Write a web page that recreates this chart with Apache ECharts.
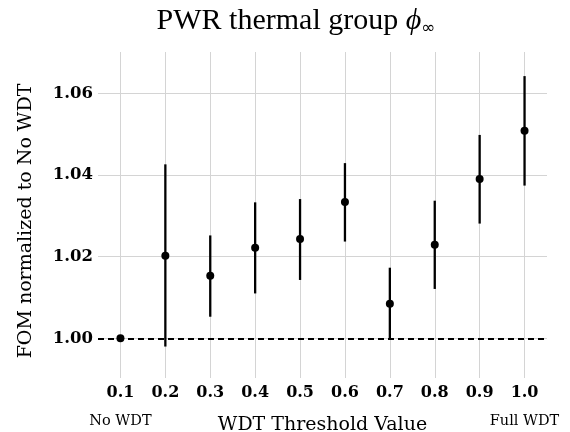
<!DOCTYPE html>
<html><head><meta charset="utf-8">
<script src="https://cdn.jsdelivr.net/npm/echarts@6/dist/echarts.min.js"></script>
<style>html,body{margin:0;padding:0;background:#fff}#c{width:570px;height:432px}</style>
</head><body><div id="c"></div>
<script>
var categories = ['0.1','0.2','0.3','0.4','0.5','0.6','0.7','0.8','0.9','1.0'];
var fom = [1.0000, 1.0202, 1.0153, 1.0222, 1.0243, 1.0334, 1.0085, 1.0229, 1.0390, 1.0508];
var errLow = [1.0000, 0.9980, 1.0053, 1.0110, 1.0143, 1.0237, 1.0000, 1.0121, 1.0281, 1.0374];
var errHigh = [1.0000, 1.0426, 1.0252, 1.0333, 1.0341, 1.0429, 1.0173, 1.0337, 1.0498, 1.0642];
var yTicks = [1.00, 1.02, 1.04, 1.06];
var noteTicks = [0.1, 1.0];
var noteLabels = ['No WDT', 'Full WDT'];

var xVals = categories.map(Number);
var chart = echarts.init(document.getElementById('c'));
var serif = 'DejaVu Serif';
chart.setOption({
  animation: false,
  backgroundColor: '#fff',
  title: {
    text: 'PWR thermal group {i|ϕ}{s|∞}',
    left: 291, textAlign: 'center', top: 1,
    textStyle: {
      fontFamily: 'Liberation Serif', fontSize: 30, fontWeight: 'normal', color: '#000',
      rich: {
        i: {fontFamily: 'Liberation Serif', fontStyle: 'italic', fontSize: 30, color: '#000'},
        s: {fontFamily: 'DejaVu Sans', fontSize: 17, color: '#000', verticalAlign: 'bottom', padding: [14,0,0,0]}
      }
    }
  },
  grid: {left: 98, right: 23, top: 52, bottom: 54, containLabel: false, outerBoundsMode: 'none'},
  xAxis: [{
    type: 'value', min: 0.05, max: 1.05,
    axisLine: {show: false}, axisTick: {show: false, customValues: xVals},
    splitLine: {show: true, lineStyle: {color: '#d4d4d4', width: 1}},
    axisLabel: {
      customValues: xVals, margin: 7, showMinLabel: true, showMaxLabel: true, hideOverlap: false,
      formatter: function (v) { return v.toFixed(1); },
      fontFamily: serif, fontWeight: 'bold', fontSize: 16, color: '#000'
    },
    name: 'WDT Threshold Value', nameLocation: 'middle', nameGap: 38, nameMoveOverlap: false,
    nameTextStyle: {fontFamily: serif, fontSize: 19, color: '#000'}
  }, {
    type: 'value', min: 0.05, max: 1.05, position: 'bottom',
    axisLine: {show: false}, axisTick: {show: false, customValues: noteTicks},
    splitLine: {show: false},
    axisLabel: {
      customValues: noteTicks, margin: 36, showMinLabel: true, showMaxLabel: true, hideOverlap: false,
      formatter: function (v) { return noteLabels[noteTicks.indexOf(Math.round(v * 10) / 10)] || ''; },
      fontFamily: serif, fontSize: 14.5, color: '#000'
    }
  }],
  yAxis: {
    type: 'value', min: 0.9903, max: 1.0701,
    axisLine: {show: false},
    axisTick: {show: false, customValues: yTicks},
    splitLine: {show: true, lineStyle: {color: '#d4d4d4', width: 1}},
    axisLabel: {
      customValues: yTicks, margin: 5,
      formatter: function (v) { return v.toFixed(2); },
      fontFamily: serif, fontWeight: 'bold', fontSize: 16.5, color: '#000'
    },
    name: 'FOM normalized to No WDT', nameLocation: 'middle', nameGap: 62, nameRotate: 90, nameMoveOverlap: false,
    nameTextStyle: {fontFamily: serif, fontSize: 19, color: '#000', padding: [0, 12, 0, 0]}
  },
  series: [
    {
      type: 'custom',
      data: xVals.map(function (x, i) { return [x, errLow[i], errHigh[i]]; }),
      renderItem: function (params, api) {
        var lo = api.coord([api.value(0), api.value(1)]);
        var hi = api.coord([api.value(0), api.value(2)]);
        return {type: 'line', shape: {x1: lo[0], y1: lo[1], x2: hi[0], y2: hi[1]},
                style: {stroke: '#000', lineWidth: 2.3}};
      },
      z: 3
    },
    {
      type: 'scatter', data: fom.map(function (v, i) { return [xVals[i], v]; }),
      symbol: 'circle', symbolSize: 8, itemStyle: {color: '#000', opacity: 1}, z: 4,
      markLine: {
        silent: true, symbol: 'none', label: {show: false},
        lineStyle: {color: '#000', type: [6, 4], width: 1.8, opacity: 1},
        data: [{yAxis: 1.0}]
      }
    }
  ]
});
</script></body></html>
